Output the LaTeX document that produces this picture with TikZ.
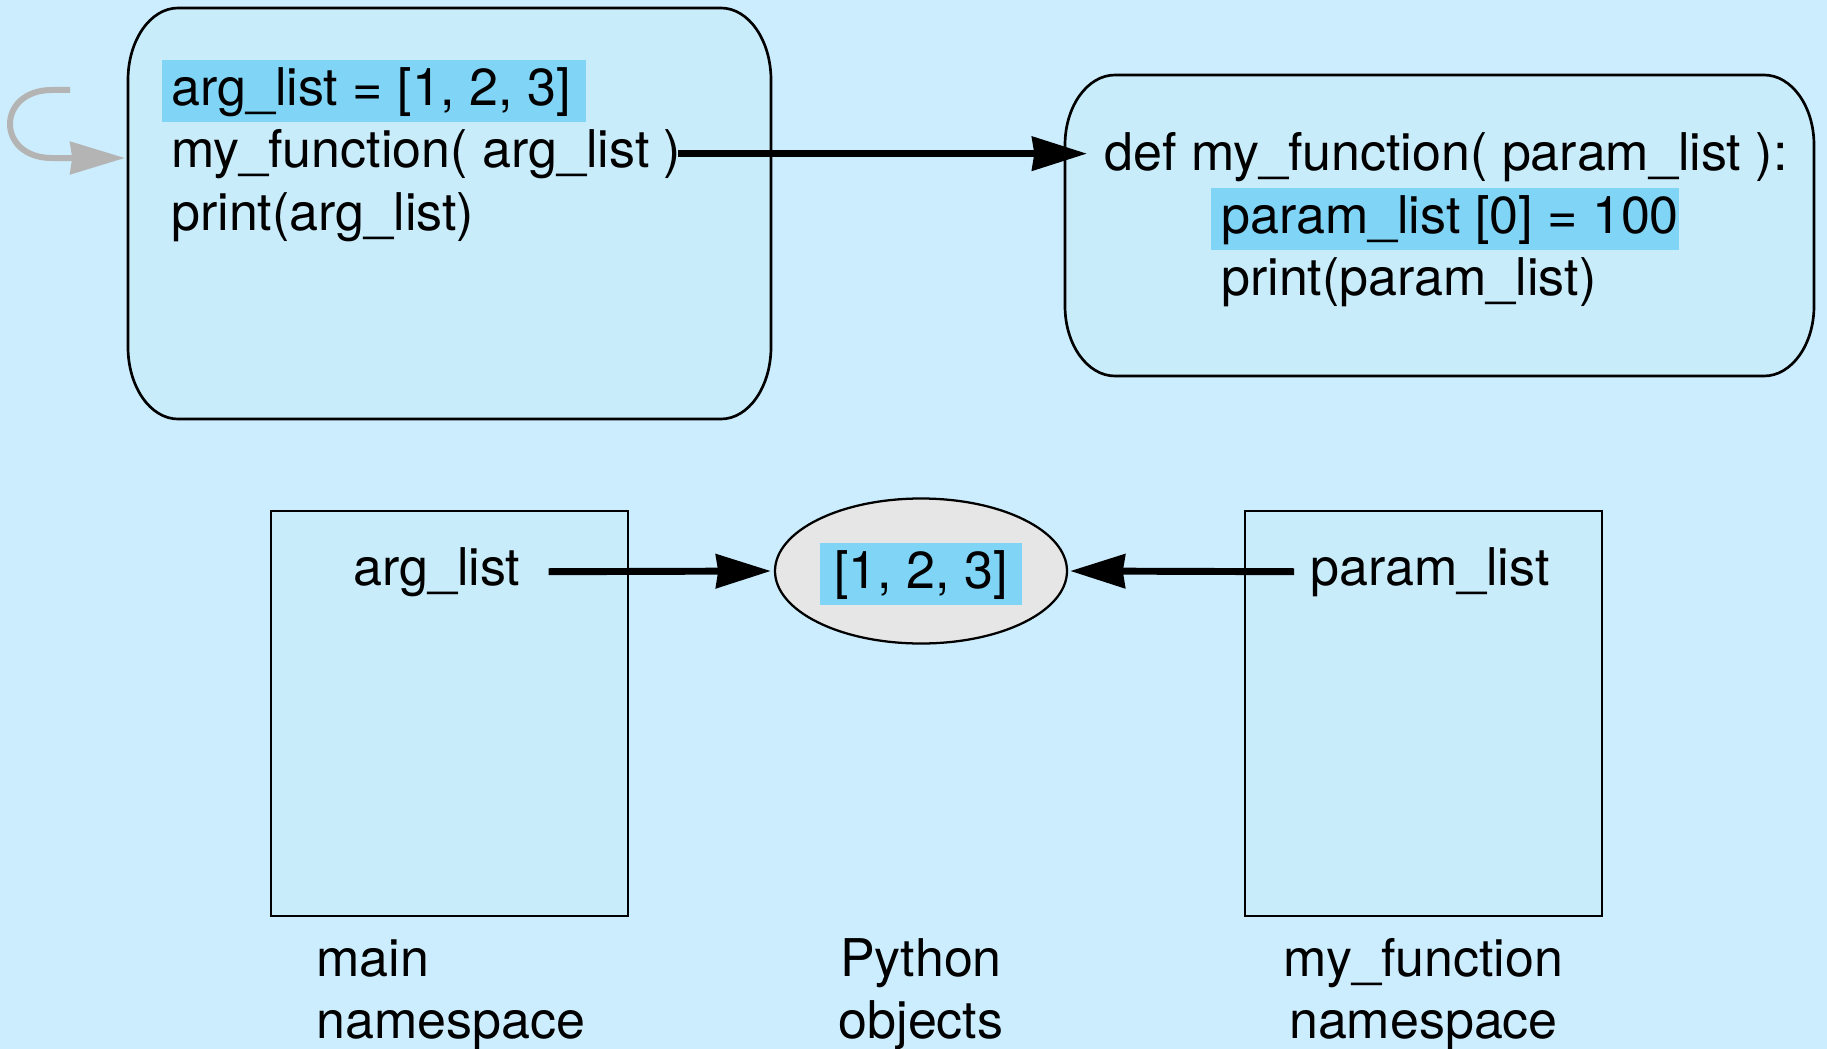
\documentclass[tikz,border=0pt]{standalone}
\usepackage{fontspec}
\setmainfont{TeX Gyre Heros}
\usetikzlibrary{arrows.meta,shapes.geometric,calc}

\definecolor{pagebg}{RGB}{204,237,253}
\definecolor{boxfill}{RGB}{200,236,250}
\definecolor{hl}{RGB}{128,212,246}
\definecolor{objfill}{RGB}{230,230,230}
\definecolor{loopgray}{RGB}{180,180,180}

% rounded frame with elliptical corners: x1, y1, x2, y2, rx, ry
\newcommand{\codeframe}[6]{%
  \draw[frame] (#1+#5,#2) -- (#3-#5,#2)
    arc[start angle=270, end angle=360, x radius=#5, y radius=#6]
    -- (#3,#4-#6)
    arc[start angle=0, end angle=90, x radius=#5, y radius=#6]
    -- (#1+#5,#4)
    arc[start angle=90, end angle=180, x radius=#5, y radius=#6]
    -- (#1,#2+#6)
    arc[start angle=180, end angle=270, x radius=#5, y radius=#6]
    -- cycle;}

\begin{document}
\begin{tikzpicture}[x=0.75pt,y=-0.75pt,
  code/.style={anchor=base west, inner sep=0pt, font=\fontsize{39}{47}\selectfont},
  hlcode/.style={code, fill=hl, text height=33.5pt, text depth=12.5pt},
  frame/.style={draw=black, line width=2pt, fill=boxfill},
  nsbox/.style={draw=black, line width=2pt, fill=boxfill, inner sep=0pt,
    minimum width=267.75pt, minimum height=303.75pt},
  objshape/.style={ellipse, draw=black, line width=1.7pt, fill=objfill, inner sep=0pt,
    minimum width=219pt, minimum height=108.75pt},
  conn/.style={line width=5.2pt, -{Stealth[length=41pt, width=25pt, inset=1.5pt]}},
  loopconn/.style={draw=loopgray, line width=4.5pt,
    -{Stealth[length=41pt, width=24pt, inset=1.5pt, color=loopgray]}},
]
% page
\useasboundingbox (0,0) rectangle (1827,1049);
\fill[pagebg] (0,0) rectangle (1827,1049);

% code frames
\codeframe{128}{8}{771}{419}{50}{72}
\codeframe{1065}{75}{1814}{376}{50}{70}

% caller code
\node[hlcode] (l1) at (162,105) {\kern6.75pt arg\_list = [1, 2, 3]\kern11pt};
\node[code] (l2) at (171,167) {my\_function( arg\_list )};
\node[code] (l3) at (171,230) {print(arg\_list)};

% function code
\node[code] (r1) at (1104,170) {def my\_function( param\_list ):};
\node[hlcode] (r2) at (1211,233) {\kern7.5pt param\_list [0] = 100};
\node[code] (r3) at (1221,295) {print(param\_list)};

% call arrow
\draw[conn] ($(l2.east)+(-3,0)$) -- ($(l2.east -| r1.west)+(-17,0)$);

% current line marker
\coordinate (loopstart) at (70,90);
\coordinate (loopend) at (125,158);
\draw[loopconn] (loopstart) -- (52,90) .. controls (-4,90) and (-4,158) .. (52,158) -- (loopend);

% namespaces and object
\node[nsbox] (mainns) at (449.5,713.5) {};
\node[nsbox] (funcns) at (1423.5,713.5) {};
\node[objshape] (obj) at (921,571) {};
\node[hlcode, anchor=base, inner xsep=11pt] (objtxt) at ($(obj.center)+(0,17)$) {[1, 2, 3]};

\node[code] (arglbl) at (353,585) {arg\_list};
\node[code] (paramlbl) at (1310,585) {param\_list};

\draw[conn] ($(arglbl.east)+(28,0)$) -- ($(obj.west)+(-3,0)$);
\draw[conn] ($(paramlbl.west)+(-16,0)$) -- ($(obj.east)+(2,0)$);

% captions
\node[code] (cap1a) at (316,976) {main};
\node[code] (cap1b) at (316,1038) {namespace};
\node[code, anchor=base] (cap2a) at (921,976) {Python};
\node[code, anchor=base] (cap2b) at (921,1038) {objects};
\node[code, anchor=base] (cap3a) at (1423.5,976) {my\_function};
\node[code, anchor=base] (cap3b) at (1423.5,1038) {namespace};
\end{tikzpicture}
\end{document}
